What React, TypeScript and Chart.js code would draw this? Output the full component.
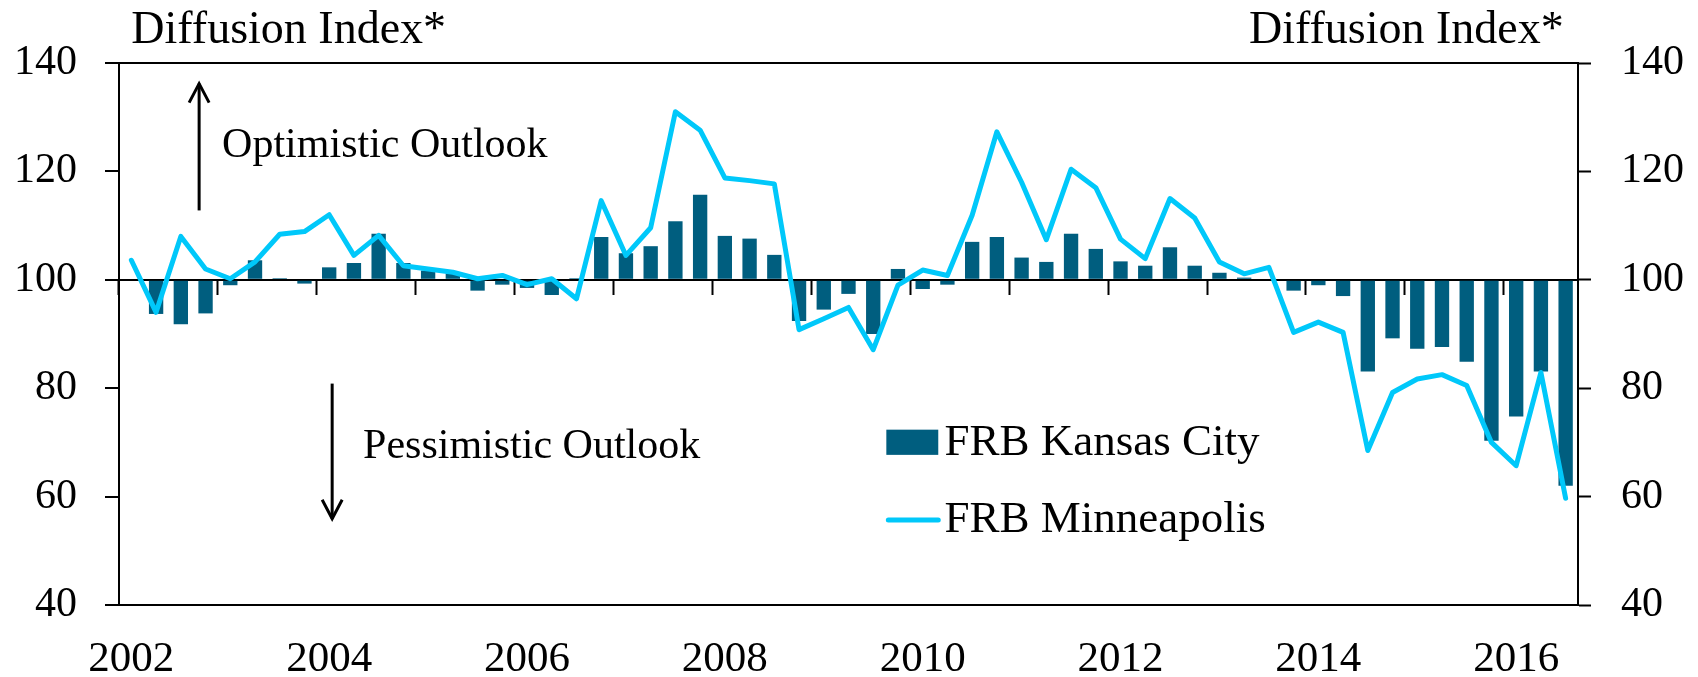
import React, { useEffect, useRef } from 'react';
import { Chart, registerables } from 'chart.js';

Chart.register(...registerables);

// ---- Data ----
const quarters = [
  '2002Q1', '2002Q2', '2002Q3', '2002Q4',
  '2003Q1', '2003Q2', '2003Q3', '2003Q4',
  '2004Q1', '2004Q2', '2004Q3', '2004Q4',
  '2005Q1', '2005Q2', '2005Q3', '2005Q4',
  '2006Q1', '2006Q2', '2006Q3', '2006Q4',
  '2007Q1', '2007Q2', '2007Q3', '2007Q4',
  '2008Q1', '2008Q2', '2008Q3', '2008Q4',
  '2009Q1', '2009Q2', '2009Q3', '2009Q4',
  '2010Q1', '2010Q2', '2010Q3', '2010Q4',
  '2011Q1', '2011Q2', '2011Q3', '2011Q4',
  '2012Q1', '2012Q2', '2012Q3', '2012Q4',
  '2013Q1', '2013Q2', '2013Q3', '2013Q4',
  '2014Q1', '2014Q2', '2014Q3', '2014Q4',
  '2015Q1', '2015Q2', '2015Q3', '2015Q4',
  '2016Q1', '2016Q2', '2016Q3',
];

const yearTickLabels = ['2002', '2004', '2006', '2008', '2010', '2012', '2014', '2016'];

const kansasCity = [
  null, 93.7, 91.8, 93.8,
  99.0, 103.6, 100.3, 99.3,
  102.3, 103.1, 108.5, 103.1,
  101.7, 101.2, 98.0, 99.1,
  98.5, 97.2, 100.3, 107.9,
  104.9, 106.2, 110.8, 115.7,
  108.1, 107.6, 104.6, 92.4,
  94.5, 97.4, 90.0, 102.0,
  98.3, 99.1, 107.0, 107.9,
  104.1, 103.3, 108.5, 105.7,
  103.4, 102.6, 106.0, 102.6,
  101.3, 100.4, 100.0, 98.0,
  99.0, 97.0, 83.1, 89.2,
  87.3, 87.6, 84.9, 70.3,
  74.8, 83.1, 62.0,
];

const minneapolis = [
  103.6, 94.0, 108.0, 102.0,
  100.2, 103.3, 108.4, 108.9,
  112.0, 104.5, 108.2, 102.6,
  102.0, 101.4, 100.2, 100.8,
  99.1, 100.2, 96.5, 114.6,
  104.5, 109.6, 131.0, 127.6,
  118.8, 118.3, 117.7, 90.8,
  92.8, 94.9, 87.1, 99.0,
  101.8, 100.8, 111.9, 127.3,
  118.0, 107.4, 120.4, 117.0,
  107.5, 103.9, 115.0, 111.4,
  103.3, 101.1, 102.3, 90.3,
  92.2, 90.3, 68.5, 79.2,
  81.7, 82.5, 80.5, 70.0,
  65.7, 82.9, 59.7,
];

const seriesNames = ['FRB Kansas City', 'FRB Minneapolis'];
const axisTitle = 'Diffusion Index*';
const upText = 'Optimistic Outlook';
const downText = 'Pessimistic Outlook';

const Y_MIN = 40;
const Y_MAX = 140;
const Y_STEP = 20;
const BASELINE = 100;
const FRAME_VALUES = [40, 100, 140];

const BAR_COLOR = '#005E7F';
const LINE_COLOR = '#00C8FA';
const FONT_FAMILY = "'Liberation Serif', 'Times New Roman', serif";
const AXIS_FONT_SIZE = 42;
const YEAR_FONT_SIZE = 43;
const HEADER_FONT_SIZE = 46;
const LEGEND_FONT_SIZE = 45;
const NOTE_FONT_SIZE = 42;

const decorPlugin = {
  id: 'decor',
  afterDraw(chart: any) {
    const { ctx } = chart;
    const x = chart.scales.x;
    const y = chart.scales.y;
    const X = (q: number) => x.getPixelForValue(q);
    const Y = (v: number) => y.getPixelForValue(v);
    ctx.save();
    ctx.fillStyle = '#000';
    ctx.strokeStyle = '#000';
    ctx.textBaseline = 'alphabetic';

    // axis headers
    ctx.font = `${HEADER_FONT_SIZE}px ${FONT_FAMILY}`;
    ctx.textAlign = 'left';
    ctx.fillText(axisTitle, X(0), Y(143.6));
    ctx.textAlign = 'right';
    ctx.fillText(axisTitle, X(57.92), Y(143.6));

    // arrows
    const arrow = (q: number, from: number, to: number) => {
      const ax = X(q);
      const y0 = Y(from);
      const y1 = Y(to);
      const dir = y1 < y0 ? 1 : -1;
      ctx.lineWidth = 3;
      ctx.lineCap = 'butt';
      ctx.beginPath();
      ctx.moveTo(ax, y0);
      ctx.lineTo(ax, y1);
      ctx.stroke();
      ctx.beginPath();
      ctx.moveTo(ax - 10, y1 + dir * 19);
      ctx.lineTo(ax, y1);
      ctx.lineTo(ax + 10, y1 + dir * 19);
      ctx.stroke();
    };
    arrow(2.74, 112.8, 136.2);
    arrow(8.12, 80.85, 55.9);

    ctx.font = `${NOTE_FONT_SIZE}px ${FONT_FAMILY}`;
    ctx.textAlign = 'left';
    ctx.fillText(upText, X(3.67), Y(122.6));
    ctx.fillText(downText, X(9.37), Y(67.2));

    // legend
    const ds = chart.data.datasets;
    const lx0 = X(30.53);
    const lx1 = X(32.63);
    ctx.fillStyle = ds[0].backgroundColor;
    ctx.fillRect(lx0, Y(72.35), lx1 - lx0, Y(67.7) - Y(72.35));
    ctx.strokeStyle = ds[1].borderColor;
    ctx.lineWidth = 5;
    ctx.lineCap = 'round';
    ctx.beginPath();
    ctx.moveTo(lx0 + 2, Y(55.7));
    ctx.lineTo(lx1, Y(55.7));
    ctx.stroke();
    ctx.fillStyle = '#000';
    ctx.font = `${LEGEND_FONT_SIZE}px ${FONT_FAMILY}`;
    ctx.fillText(ds[0].label, X(32.88), Y(67.7));
    ctx.fillText(ds[1].label, X(32.88), Y(53.5));
    ctx.restore();
  },
};

export default function App() {
  const canvasRef = useRef<HTMLCanvasElement | null>(null);

  useEffect(() => {
    document.body.style.margin = '0';
    const canvas = canvasRef.current;
    if (!canvas) return;
    const axisFont = { family: FONT_FAMILY, size: AXIS_FONT_SIZE };
    const yearFont = { family: FONT_FAMILY, size: YEAR_FONT_SIZE };
    const chart = new Chart(canvas, {
      type: 'bar',
      data: {
        labels: quarters,
        datasets: [
          {
            type: 'bar',
            label: seriesNames[0],
            data: kansasCity,
            base: BASELINE,
            backgroundColor: BAR_COLOR,
            barPercentage: 0.58,
            categoryPercentage: 1.0,
            xAxisID: 'x',
            yAxisID: 'y',
            order: 1,
          } as any,
          {
            type: 'line',
            label: seriesNames[1],
            data: minneapolis,
            borderColor: LINE_COLOR,
            backgroundColor: LINE_COLOR,
            borderWidth: 5,
            pointRadius: 0,
            tension: 0,
            borderJoinStyle: 'round',
            borderCapStyle: 'round',
            xAxisID: 'x',
            yAxisID: 'y',
            order: 0,
          } as any,
        ],
      },
      options: {
        responsive: false,
        animation: false,
        layout: { padding: { top: 63, left: 0, right: 0, bottom: 0 } },
        plugins: {
          legend: { display: false },
          tooltip: { enabled: false },
        },
        scales: {
          x: {
            type: 'category',
            position: 'bottom',
            offset: true,
            grid: { display: true, drawOnChartArea: false, drawTicks: false },
            border: { display: true, color: '#000', width: 2 },
            ticks: {
              autoSkip: false,
              maxRotation: 0,
              minRotation: 0,
              padding: 29,
              color: '#000',
              font: yearFont,
              callback: (_v: any, i: number) => {
                const q = quarters[i];
                const yr = q.slice(0, 4);
                return q.endsWith('Q1') && yearTickLabels.includes(yr) ? yr : '';
              },
            },
            afterFit: (s: any) => { s.height = 72; },
          },
          xMid: {
            type: 'category',
            axis: 'x',
            position: { y: BASELINE },
            offset: true,
            grid: {
              display: true,
              offset: true,
              drawOnChartArea: false,
              drawTicks: true,
              tickLength: 14,
              tickWidth: 2,
              tickColor: (c: any) => (c.index % 4 === 0 ? '#000' : 'rgba(0,0,0,0)'),
            },
            border: { display: true, color: '#000', width: 2 },
            ticks: { display: false, autoSkip: false },
          } as any,
          y: {
            type: 'linear',
            position: 'left',
            min: Y_MIN,
            max: Y_MAX,
            ticks: { stepSize: Y_STEP, padding: 28, color: '#000', font: axisFont },
            grid: {
              color: (c: any) => (FRAME_VALUES.includes(c.tick?.value) ? '#000' : 'rgba(0,0,0,0)'),
              lineWidth: 2,
              tickColor: '#000',
              tickLength: 14,
              tickWidth: 2,
            },
            border: { display: true, color: '#000', width: 2 },
            afterFit: (s: any) => { s.width = 119; },
          },
          y2: {
            type: 'linear',
            position: 'right',
            min: Y_MIN,
            max: Y_MAX,
            ticks: { stepSize: Y_STEP, padding: 30, color: '#000', font: axisFont },
            grid: {
              drawOnChartArea: false,
              tickColor: '#000',
              tickLength: 13,
              tickWidth: 2,
            },
            border: { display: true, color: '#000', width: 2 },
            afterFit: (s: any) => { s.width = 120; },
          },
        },
      } as any,
      plugins: [decorPlugin],
    });
    return () => chart.destroy();
  }, []);

  return (
    <div style={{ width: 1698, height: 677, background: '#fff' }}>
      <canvas ref={canvasRef} width={1698} height={677} />
    </div>
  );
}
